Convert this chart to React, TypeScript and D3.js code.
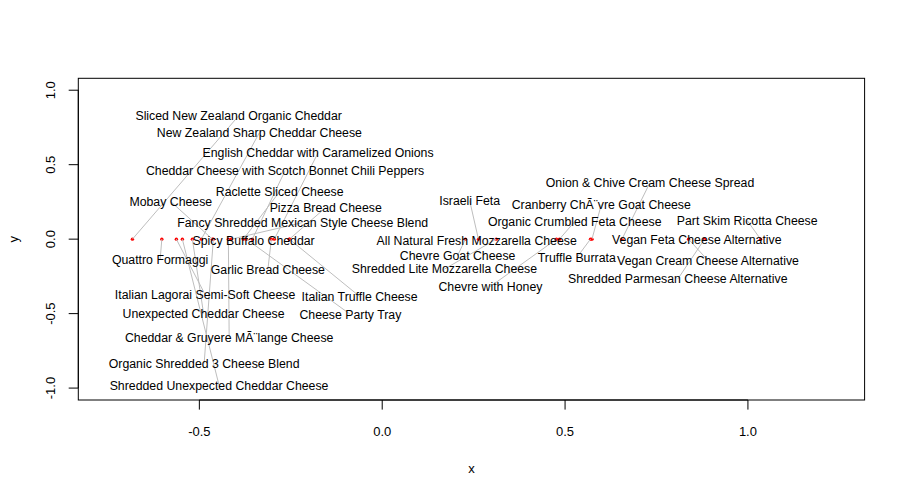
import * as d3 from "d3";

// ── Data ──────────────────────────────────────────────────────
const LABELS = [
  "Sliced New Zealand Organic Cheddar",
  "New Zealand Sharp Cheddar Cheese",
  "English Cheddar with Caramelized Onions",
  "Cheddar Cheese with Scotch Bonnet Chili Peppers",
  "Mobay Cheese",
  "Raclette Sliced Cheese",
  "Pizza Bread Cheese",
  "Fancy Shredded Mexican Style Cheese Blend",
  "Spicy Buffalo Cheddar",
  "Quattro Formaggi",
  "Garlic Bread Cheese",
  "Italian Lagorai Semi-Soft Cheese",
  "Italian Truffle Cheese",
  "Unexpected Cheddar Cheese",
  "Cheese Party Tray",
  "Cheddar & Gruyere MÃ¨lange Cheese",
  "Organic Shredded 3 Cheese Blend",
  "Shredded Unexpected Cheddar Cheese",
  "Israeli Feta",
  "Onion & Chive Cream Cheese Spread",
  "Cranberry ChÃ¨vre Goat Cheese",
  "Organic Crumbled Feta Cheese",
  "Part Skim Ricotta Cheese",
  "All Natural Fresh Mozzarella Cheese",
  "Vegan Feta Cheese Alternative",
  "Chevre Goat Cheese",
  "Truffle Burrata",
  "Vegan Cream Cheese Alternative",
  "Shredded Lite Mozzarella Cheese",
  "Shredded Parmesan Cheese Alternative",
  "Chevre with Honey",
];

// original point positions (all on y = 0)
const POINT_X = [
  -0.683, -0.4945, -0.2949, -0.355, -0.4644, -0.3797, -0.2538, -0.4125, -0.3337,
  -0.6026, -0.3031, -0.5629, -0.2538, -0.5191, -0.3714, -0.4207, -0.4617, -0.5465,
  0.2631, 0.6556, 0.5736, 0.4847, 1.0345, 0.2686, 0.8594, 0.2276, 0.5695, 0.8376,
  0.3119, 0.8813, 0.4765,
];
const POINT_Y = POINT_X.map(() => 0);

// label centres after layout
const LABEL_X = [
  -0.3925, -0.3359, -0.1753, -0.2656, -0.578, -0.2804, -0.1545, -0.2174, -0.3515,
  -0.6072, -0.3126, -0.4844, -0.0618, -0.4885, -0.087, -0.4185, -0.4869, -0.4461,
  0.2391, 0.7322, 0.599, 0.5263, 0.9981, 0.2582, 0.8602, 0.2062, 0.532, 0.8909,
  0.1701, 0.8082, 0.2959,
];
const LABEL_Y = [
  0.8284, 0.7145, 0.5804, 0.4598, 0.252, 0.319, 0.2118, 0.1113, -0.0094,
  -0.1367, -0.2038, -0.3713, -0.3847, -0.4987, -0.5054, -0.6595, -0.8338, -0.9812,
  0.2587, 0.3794, 0.2319, 0.118, 0.1247, -0.0094, -0.0047, -0.1099, -0.1233, -0.1434,
  -0.2011, -0.2681, -0.3177,
];

const X_TICKS = [-0.5, 0, 0.5, 1];
const Y_TICKS = [-1, -0.5, 0, 0.5, 1];

// ── Geometry ──────────────────────────────────────────────────
const W = 905;
const H = 498;
const PAD = { top: 78.3, right: 40.4, bottom: 98, left: 78.3 };
const FONT = "'Liberation Sans', Arial, sans-serif";
const LABEL_SIZE = 12.3;
const AXIS_SIZE = 13;

let ctx: CanvasRenderingContext2D | null = null;
function textWidth(s: string): number {
  if (!ctx) ctx = document.createElement("canvas").getContext("2d");
  if (!ctx) return s.length * 6;
  ctx.font = `${LABEL_SIZE}px ${FONT}`;
  return ctx.measureText(s).width;
}

export default function App() {
  const x = d3.scaleLinear().domain([-0.831, 1.319]).range([PAD.left, W - PAD.right]);
  const y = d3.scaleLinear().domain([-1.08, 1.08]).range([H - PAD.bottom, PAD.top]);
  const x0 = PAD.left;
  const y0 = H - PAD.bottom;

  const items = LABELS.map((lab, i) => {
    const px = x(POINT_X[i]);
    const py = y(POINT_Y[i]);
    const lx = x(LABEL_X[i]);
    const ly = y(LABEL_Y[i]);
    const w = textWidth(lab);
    const h = LABEL_SIZE * 1.1;
    // point is only marked when the label does not cover it
    const outside = px < lx - w / 2 || px > lx + w / 2 || py < ly - h / 2 || py > ly + h / 2;
    return { lab, px, py, lx, ly, outside };
  });

  return (
    <div style={{ position: "absolute", left: 0, top: 0, background: "#fff" }}>
      <svg width={W} height={H} style={{ display: "block" }} fontFamily={FONT}>
        <rect x={0} y={0} width={W} height={H} fill="#fff" />

        {/* leader lines + original points */}
        {items.filter((d) => d.outside).map((d, i) => (
          <g key={`p-${i}`}>
            <circle cx={d.px} cy={d.py} r={1.7} fill="#ff0000" />
            <line x1={d.px} y1={d.py} x2={d.lx} y2={d.ly} stroke="#bebebe" strokeWidth={1} />
          </g>
        ))}

        {/* labels */}
        {items.map((d, i) => (
          <text key={`t-${i}`} x={d.lx} y={d.ly} dy="0.35em" textAnchor="middle"
            fontSize={LABEL_SIZE} fill="#000">
            {d.lab}
          </text>
        ))}

        {/* box */}
        <rect x={PAD.left} y={PAD.top} width={W - PAD.left - PAD.right}
          height={H - PAD.top - PAD.bottom} fill="none" stroke="#000" strokeWidth={1} />

        {/* x axis */}
        <line x1={x(X_TICKS[0])} x2={x(X_TICKS[X_TICKS.length - 1])} y1={y0} y2={y0} stroke="#000" />
        {X_TICKS.map((t) => (
          <g key={`xt-${t}`}>
            <line x1={x(t)} x2={x(t)} y1={y0} y2={y0 + 9.6} stroke="#000" />
            <text x={x(t)} y={y0 + 36} textAnchor="middle" fontSize={AXIS_SIZE} fill="#000">
              {t.toFixed(1)}
            </text>
          </g>
        ))}
        <text x={(PAD.left + W - PAD.right) / 2} y={473} textAnchor="middle"
          fontSize={AXIS_SIZE} fill="#000">x</text>

        {/* y axis */}
        <line x1={x0} x2={x0} y1={y(Y_TICKS[0])} y2={y(Y_TICKS[Y_TICKS.length - 1])} stroke="#000" />
        {Y_TICKS.map((t) => (
          <g key={`yt-${t}`}>
            <line x1={x0 - 9.6} x2={x0} y1={y(t)} y2={y(t)} stroke="#000" />
            <text x={55} y={y(t)} textAnchor="middle" fontSize={AXIS_SIZE} fill="#000"
              transform={`rotate(-90, 55, ${y(t)})`}>
              {t.toFixed(1)}
            </text>
          </g>
        ))}
        <text x={18} y={(PAD.top + H - PAD.bottom) / 2} textAnchor="middle"
          fontSize={AXIS_SIZE} fill="#000"
          transform={`rotate(-90, 18, ${(PAD.top + H - PAD.bottom) / 2})`}>
          y
        </text>
      </svg>
    </div>
  );
}
